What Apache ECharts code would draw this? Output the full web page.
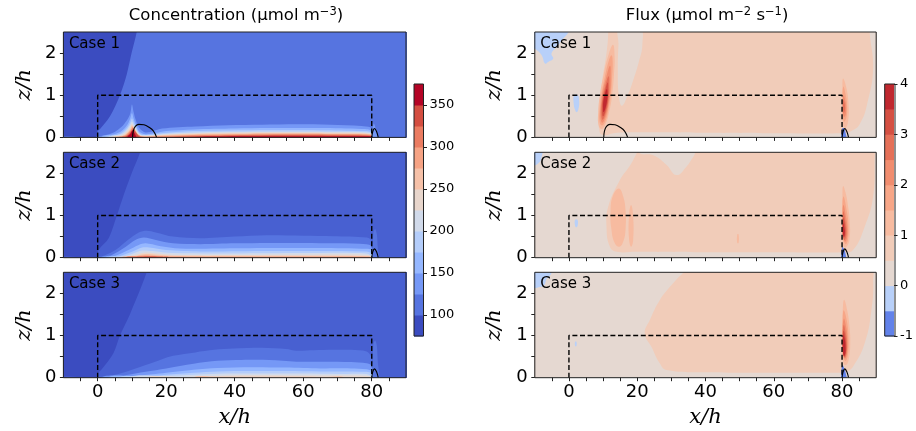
<!DOCTYPE html>
<html><head><meta charset="utf-8">
<script src="https://cdn.jsdelivr.net/npm/echarts@6/dist/echarts.min.js"></script>
<style>html,body{margin:0;padding:0;background:#fff}#c{width:916px;height:431px}</style>
</head><body><div id="c"></div>
<script>
// ---------------- DATA ----------------
const xTickLabels = [0, 20, 40, 60, 80];
const xTickMarks = [-5,0,5,10,15,20,25,30,35,40,45,50,55,60,65,70,75,80,85];
const zTickLabels = [0, 1, 2];
const zTickMarks = [0, 0.5, 1, 1.5, 2];
const concBounds = [75,100,125,150,175,200,225,250,275,300,325,350,375];
const concCbarLabels = [100,150,200,250,300,350];
const fluxBounds = [-1,-0.5,0,0.5,1,1.5,2,2.5,3,3.5,4];
const fluxCbarLabels = [-1,0,1,2,3,4];
const caseNames = ['Case 1','Case 2','Case 3'];
const canopyOutline = [[0,0],[0,1],[80,1],[80,0]];
const case1Arc = [[10.2,0],[10.4,0.15],[11,0.26],[12,0.31],[13.5,0.3],[15,0.24],[16.3,0.15],[17.2,0]];
const wallPeak = [[80,0],[80.3,0.14],[80.8,0.21],[81.4,0.14],[81.9,0]];

// concentration regions: [lower level, top boundary (ground attached)]
const conc1 = [
 [75, [[-11,2.7],[91,2.7]]],
 [100,[[-11,0],[-0.5,0],[0,0.15],[0.7,0.2],[3.6,0.5],[6.5,1],[8.5,1.5],[9.9,2],[11.4,2.5],[11.6,2.7],[91,2.7]]],
 [125,[[-0.5,0],[0,0.02],[2,0.05],[5,0.13],[7,0.25],[8.5,0.4],[9.5,0.56],[10,0.78],[10.5,0.6],[11,0.44],[12,0.24],[13.5,0.13],[15,0.12],[18.8,0.21],[28.5,0.26],[38,0.29],[48,0.3],[58,0.31],[68,0.3],[77,0.27],[79.6,0.24],[80.1,0.18],[80.6,0.33],[81.1,0.22],[81.6,0.05],[82,0]]],
 [150,[[1,0],[5,0.08],[7,0.15],[8.5,0.28],[9.5,0.45],[10,0.58],[10.5,0.45],[11.2,0.3],[12,0.15],[13.5,0.08],[16,0.09],[20,0.15],[28,0.19],[40,0.21],[50,0.22],[65,0.22],[77,0.2],[79.6,0.17],[80.1,0]]],
 [175,[[2,0],[5,0.04],[7,0.11],[8.5,0.22],[9.5,0.36],[10,0.45],[10.6,0.35],[11.3,0.22],[12.2,0.1],[13.5,0.06],[16,0.07],[20,0.11],[28,0.15],[45,0.17],[65,0.17],[77,0.15],[79.7,0.13],[80.1,0]]],
 [200,[[3,0],[7,0.08],[8.5,0.18],[9.5,0.3],[10,0.38],[10.6,0.3],[11.3,0.18],[12.3,0.07],[14,0.05],[17,0.06],[22,0.1],[30,0.125],[50,0.14],[70,0.135],[79.7,0.11],[80.1,0]]],
 [225,[[4,0],[7,0.05],[8.5,0.14],[9.5,0.25],[10,0.32],[10.6,0.25],[11.4,0.14],[12.5,0.05],[15,0.04],[20,0.07],[30,0.1],[50,0.12],[70,0.115],[79.7,0.09],[80.1,0]]],
 [250,[[5,0],[7.5,0.04],[8.8,0.12],[9.6,0.21],[10,0.28],[10.7,0.21],[11.5,0.1],[12.5,0.035],[16,0.035],[22,0.06],[32,0.085],[50,0.1],[70,0.095],[79.7,0.075],[80.1,0]]],
 [275,[[6,0],[8,0.05],[9,0.12],[9.8,0.2],[10.2,0.25],[10.8,0.18],[11.6,0.08],[13,0.02],[17,0.025],[24,0.05],[35,0.07],[50,0.085],[70,0.08],[79.7,0.065],[80.1,0]]],
 [300,[[7,0],[8.5,0.05],[9.3,0.12],[10,0.2],[10.4,0.22],[11,0.15],[11.8,0.06],[13,0.015],[18,0.015],[26,0.04],[40,0.055],[55,0.07],[70,0.065],[79.7,0.05],[80.1,0]]],
 [325,[[8,0],[9,0.06],[9.8,0.14],[10.4,0.2],[11.1,0.12],[12,0.03],[13,0],[20,0],[28,0.025],[40,0.04],[55,0.05],[70,0.045],[79.7,0.035],[80.1,0]]],
 [350,[[8.6,0],[9.5,0.08],[10.2,0.17],[10.8,0.1],[11.6,0],[22,0],[30,0.015],[45,0.025],[60,0.03],[75,0.025],[79.8,0.02],[80,0]]]
];
const conc2 = [
 [75, [[-11,2.7],[91,2.7]]],
 [87.5,[[-11,0],[-0.5,0],[0.3,0.19],[3.2,0.46],[5.6,1.0],[7.6,1.49],[9.9,2.0],[12.4,2.5],[12.6,2.7],[91,2.7]]],
 [100,[[-0.3,0],[2,0.05],[5.2,0.18],[9,0.43],[12,0.6],[14.3,0.64],[17,0.6],[22,0.5],[29.9,0.46],[40,0.5],[49.3,0.53],[60,0.52],[68.8,0.51],[78.5,0.48],[79.8,0.42],[80.2,0.2],[80.5,0.6],[81,0.68],[81.5,0.55],[81.8,0.2],[82.2,0]]],
 [125,[[1,0],[4,0.06],[8,0.25],[11,0.42],[13.5,0.48],[17,0.42],[22,0.34],[30,0.32],[40,0.34],[50,0.35],[60,0.35],[70,0.34],[78.5,0.32],[79.8,0.28],[80.1,0]]],
 [150,[[2,0],[5,0.04],[9,0.18],[12,0.3],[14,0.34],[18,0.28],[24,0.22],[35,0.22],[50,0.23],[65,0.23],[78.5,0.21],[79.9,0.18],[80.1,0]]],
 [175,[[3,0],[6,0.03],[10,0.14],[13,0.24],[15,0.24],[20,0.18],[30,0.15],[50,0.16],[78.5,0.15],[80,0.1],[80.1,0]]],
 [200,[[4,0],[7,0.02],[10,0.09],[13,0.17],[16,0.16],[22,0.11],[40,0.1],[60,0.11],[78.5,0.1],[80.1,0]]],
 [225,[[5,0],[8,0.02],[11,0.07],[13.5,0.12],[16,0.11],[22,0.07],[40,0.065],[60,0.07],[79,0.065],[80.1,0]]],
 [250,[[6,0],[9,0.02],[12,0.06],[14,0.085],[17,0.07],[24,0.045],[50,0.045],[79,0.04],[80,0]]],
 [275,[[7,0],[10,0.02],[13,0.05],[15,0.055],[19,0.04],[26,0.03],[50,0.03],[79,0.025],[80,0]]],
 [300,[[8,0],[12,0.03],[15,0.04],[19,0.025],[26,0.015],[60,0.015],[79,0.012],[80,0]]],
 [325,[[11,0],[13,0.025],[16,0.03],[19,0.02],[21,0]]]
];
const conc3 = [
 [75, [[-11,2.7],[91,2.7]]],
 [87.5,[[-11,0],[-0.5,0],[0,0.1],[1.2,0.2],[4.6,0.58],[6.5,1.0],[9.4,1.5],[14.3,2.5],[14.5,2.7],[91,2.7]]],
 [100,[[-0.3,0],[3,0.03],[9,0.16],[14,0.3],[18.8,0.44],[22,0.52],[28.5,0.6],[34,0.66],[39.6,0.69],[48,0.71],[55,0.68],[58,0.64],[63,0.65],[68.8,0.66],[74,0.66],[78.5,0.62],[79.8,0.5],[80.2,0.3],[80.5,0.8],[81,0.88],[81.5,0.75],[81.8,0.35],[82.3,0]]],
 [125,[[1,0],[8,0.06],[14,0.14],[20,0.22],[28,0.33],[35,0.4],[42,0.42],[50,0.42],[58,0.38],[66,0.38],[74,0.37],[78.5,0.34],[79.9,0.28],[80.1,0]]],
 [150,[[3,0],[10,0.04],[16,0.08],[20,0.12],[28,0.19],[35,0.23],[45,0.25],[55,0.24],[65,0.22],[74,0.22],[78.5,0.2],[80,0.15],[80.1,0]]],
 [175,[[6,0],[14,0.03],[20,0.07],[28,0.12],[35,0.15],[45,0.16],[55,0.16],[65,0.15],[78.5,0.14],[80,0.1],[80.1,0]]],
 [200,[[9,0],[20,0.04],[28,0.07],[35,0.095],[45,0.1],[60,0.1],[70,0.09],[78.5,0.085],[80.05,0]]],
 [225,[[14,0],[25,0.015],[32,0.04],[40,0.055],[55,0.055],[70,0.05],[78.5,0.045],[80,0]]],
 [250,[[28,0],[35,0.02],[45,0.025],[58,0.022],[66,0.015],[72,0]]]
];

// flux regions: [lower level, closed outline]
const flux1 = [
 [0,   [[-11,-0.5],[91,-0.5],[91,2.7],[-11,2.7]]],
 [-0.5,[[-10.5,2.6],[-0.2,2.6],[-0.2,2.49],[-2.1,2.31],[-3.1,2.19],[-5.1,1.99],[-4.6,1.87],[-6.1,1.79],[-7.0,1.75],[-8.0,1.95],[-9.95,2.1],[-10.5,2.1]]],
 [-0.5,[[1.5,1.0],[2.6,1.0],[3.0,0.85],[2.8,0.68],[2.3,0.6],[1.8,0.65],[1.4,0.8]]],
 [0.5, [[11.3,2.6],[88.3,2.6],[88.1,2.48],[89.1,1.66],[87.6,0.88],[85.2,0.32],[82.2,0.13],[80.5,0.1],[60,0.1],[40,0.11],[20,0.12],[13,0.1],[10.5,0.05],[9,0.12],[8.9,0.64],[9.6,1.27],[11.1,2.06],[11.5,2.48]]],
 [0,   [[14.8,2.6],[20.8,2.6],[21.5,2.2],[20.5,1.8],[19,1.4],[17.2,1.0],[15.5,0.75],[14.6,1.0],[14.3,1.6],[14.5,2.2]]],
 [1.0, [[9.49,0.2],[10.66,0.3],[11.77,0.6],[12.65,1.0],[13.2,1.5],[13.38,1.9],[12.89,2.2],[11.38,1.9],[10.2,1.5],[9.05,1.0],[8.57,0.6],[8.66,0.3]]],
 [1.5, [[9.63,0.28],[10.73,0.4],[11.64,0.7],[12.25,1.0],[12.63,1.4],[12.81,1.8],[12.47,1.95],[11.61,1.8],[10.43,1.4],[9.45,1.0],[9.04,0.7],[8.93,0.4]]],
 [2.0, [[9.75,0.35],[10.8,0.5],[11.61,0.8],[12.12,1.1],[12.23,1.4],[12.04,1.7],[10.83,1.4],[9.92,1.1],[9.41,0.8],[9.2,0.5]]],
 [2.5, [[9.86,0.42],[10.87,0.6],[11.58,0.9],[11.79,1.2],[11.62,1.45],[10.59,1.2],[9.78,0.9],[9.47,0.6]]],
 [3.0, [[10.0,0.5],[10.94,0.7],[11.47,0.95],[11.51,1.15],[11.36,1.3],[10.71,1.15],[10.07,0.95],[9.74,0.7]]],
 [3.5, [[10.17,0.6],[10.88,0.75],[11.27,0.95],[11.29,1.05],[11.11,1.15],[10.59,1.05],[10.27,0.95],[9.98,0.75]]],
 [1.0, [[80.3,1.4],[81.2,1.2],[81.9,0.8],[81.8,0.4],[81.0,0.22],[80.3,0.3],[80.1,0.8],[80.1,1.2]]],
 [1.5, [[80.35,1.2],[81.2,0.95],[81.5,0.7],[81.2,0.45],[80.5,0.38],[80.2,0.7]]],
 [2.0, [[80.4,1.0],[81.0,0.85],[81.2,0.68],[80.9,0.5],[80.4,0.5],[80.2,0.75]]],
 [2.5, [[80.4,0.9],[80.8,0.78],[80.85,0.65],[80.5,0.58],[80.25,0.72]]],
 [-1.0,[[80.0,-0.1],[80.0,0.2],[80.5,0.22],[81.0,0.12],[81.3,-0.1]]]
];
const flux2 = [
 [0,   [[-11,-0.5],[91,-0.5],[91,2.7],[-11,2.7]]],
 [-0.5,[[-10.5,2.6],[-7.8,2.6],[-8.0,2.4],[-8.8,2.25],[-10.5,2.2]]],
 [-0.5,[[1.8,0.9],[2.5,0.9],[2.6,0.78],[2.2,0.72],[1.8,0.76]]],
 [0.5, [[20.8,2.6],[20.8,2.47],[24.7,2.43],[28.6,2.2],[31.5,1.96],[34.4,2.16],[36.4,2.39],[38.3,2.6],[89.8,2.6],[89.6,2.47],[89.1,1.45],[86.6,0.73],[83.2,0.18],[80.3,0.13],[60,0.13],[40,0.13],[20,0.14],[14,0.14],[12,0.26],[11,0.73],[11.5,1.21],[14.9,1.84],[18,2.2]]],
 [1.0, [[14.6,1.64],[15.9,1.45],[16.6,1.1],[16.6,0.7],[16.0,0.4],[14.8,0.26],[13.4,0.35],[12.4,0.7],[12.2,1.1],[12.8,1.45]]],
 [1.0, [[18.2,1.25],[18.8,1.0],[18.8,0.4],[18.2,0.26],[17.6,0.45],[17.6,1.0]]],
 [1.0, [[49.3,0.55],[49.7,0.55],[49.7,0.35],[49.3,0.35]]],
 [1.0, [[80.3,1.7],[81.0,1.55],[81.8,1.2],[82.3,0.8],[82.2,0.45],[81.5,0.28],[80.6,0.25],[80.1,0.5],[80.0,1.0],[80.1,1.4]]],
 [1.5, [[80.4,1.45],[81.4,1.1],[81.9,0.75],[81.7,0.42],[81.0,0.32],[80.2,0.5],[80.1,1.0]]],
 [2.0, [[80.4,1.25],[81.2,0.95],[81.6,0.7],[81.4,0.45],[80.8,0.38],[80.2,0.55],[80.15,0.95]]],
 [2.5, [[80.4,1.1],[81.0,0.85],[81.3,0.65],[81.1,0.48],[80.6,0.42],[80.2,0.6],[80.2,0.9]]],
 [3.0, [[80.4,0.95],[80.9,0.75],[81.0,0.6],[80.8,0.5],[80.4,0.48],[80.2,0.65]]],
 [3.5, [[80.35,0.82],[80.7,0.68],[80.8,0.58],[80.5,0.5],[80.25,0.6]]],
 [-1.0,[[80.0,-0.1],[80.0,0.25],[80.5,0.22],[81.0,0.1],[81.2,-0.1]]]
];
const flux3 = [
 [0,   [[-11,-0.5],[91,-0.5],[91,2.7],[-11,2.7]]],
 [-0.5,[[-10.5,2.6],[-5.1,2.6],[-5.3,2.45],[-6.5,2.35],[-7.2,2.2],[-8.5,2.15],[-10.5,2.15]]],
 [-0.5,[[1.8,0.85],[2.2,0.85],[2.2,0.75],[1.8,0.75]]],
 [0.5, [[35.4,2.6],[88.3,2.6],[89.1,2.31],[88.6,1.6],[86.6,0.81],[83.2,0.26],[81.3,0.14],[80,0.12],[60,0.12],[40,0.13],[28.6,0.18],[26.6,0.34],[24.2,0.73],[22.2,1.05],[23.7,1.37],[26.6,1.84],[30.5,2.24],[33,2.45]]],
 [1.0, [[80.6,1.85],[81.5,1.6],[82.2,1.2],[82.4,0.8],[82.0,0.45],[81.2,0.3],[80.4,0.35],[80.1,0.8],[80.1,1.3],[80.2,1.6]]],
 [1.5, [[80.5,1.6],[81.4,1.35],[81.9,0.95],[81.8,0.6],[81.1,0.4],[80.3,0.5],[80.1,1.0],[80.2,1.4]]],
 [2.0, [[80.5,1.4],[81.2,1.2],[81.6,0.9],[81.5,0.6],[80.9,0.45],[80.3,0.55],[80.15,1.0]]],
 [2.5, [[80.5,1.25],[81.1,1.05],[81.4,0.85],[81.3,0.6],[80.8,0.48],[80.3,0.6],[80.2,1.0]]],
 [3.0, [[80.45,1.12],[81.0,0.95],[81.2,0.78],[81.1,0.58],[80.6,0.5],[80.25,0.65],[80.2,0.95]]],
 [3.5, [[80.4,1.02],[80.85,0.88],[81.0,0.72],[80.9,0.56],[80.5,0.52],[80.25,0.7]]],
 [-1.0,[[80.0,-0.1],[80.0,0.3],[80.5,0.25],[81.1,0.1],[81.4,-0.1]]]
];

// ---------------- STYLE ----------------
const CW = [[59,76,192],[68,90,204],[77,104,215],[87,117,225],[98,130,234],[108,142,241],[119,154,247],[130,165,251],[141,176,254],[152,185,255],[163,194,255],[174,201,253],[184,208,249],[194,213,244],[204,217,238],[213,219,230],[221,221,221],[229,216,209],[236,211,197],[241,204,185],[245,196,173],[247,187,160],[247,177,148],[247,166,135],[244,154,123],[241,141,111],[236,127,99],[229,112,88],[222,96,77],[213,80,66],[203,62,56],[192,40,47],[180,4,38]];
function cw(t){t=Math.max(0,Math.min(1,t));const f=t*32,i=Math.min(31,Math.floor(f)),r=f-i,a=CW[i],b=CW[i+1];
 return 'rgb('+[0,1,2].map(k=>Math.round(a[k]+(b[k]-a[k])*r)).join(',')+')';}
const concColor = L => cw((L-75)/275);
const fluxColor = L => {const m=L+0.25; return cw(m<0 ? 0.5*(m+1) : 0.5+m/8);};
const FONT = '"DejaVu Sans", sans-serif';
const tops = [32, 152.3, 272.3], H = 105.4;
const cols = [{left:63.4,width:342.6},{left:534.8,width:341.4}];

const grids=[], xAxes=[], yAxes=[], series=[];
const concSets=[conc1,conc2,conc3], fluxSets=[flux1,flux2,flux3];
for (let c=0;c<2;c++) for (let r=0;r<3;r++){
  const gi = grids.length;
  grids.push({left:cols[c].left, top:tops[r], width:cols[c].width, height:H});
  xAxes.push({gridIndex:gi,type:'value',min:-10,max:90,z:10,position:'bottom',
    axisLine:{show:false,onZero:false},splitLine:{show:false},
    axisTick:{show:true,length:3.5,customValues:xTickMarks,lineStyle:{color:'#222',width:1}},
    axisLabel:{show:r===2,customValues:xTickLabels,fontSize:18,fontFamily:FONT,color:'#000',margin:6}});
  yAxes.push({gridIndex:gi,type:'value',min:0,max:2.5,z:10,position:'left',
    axisLine:{show:false,onZero:false},splitLine:{show:false},
    axisTick:{show:true,length:3.5,customValues:zTickMarks,lineStyle:{color:'#222',width:1}},
    axisLabel:{customValues:zTickLabels,fontSize:18,fontFamily:FONT,color:'#000',margin:7}});
  const regions = c===0 ? concSets[r] : fluxSets[r];
  const grounded = c===0;
  const colorFn = c===0 ? concColor : fluxColor;
  const sm = c===0 ? 0.3 : 0.45;
  series.push({type:'custom',xAxisIndex:gi,yAxisIndex:gi,clip:true,silent:true,z:2,
    data:regions.map((_,i)=>i),
    renderItem:(params,api)=>{
      const reg=regions[params.dataIndex]; let pts=reg[1];
      if(grounded) pts=[[pts[0][0],-0.4]].concat(pts,[[pts[pts.length-1][0],-0.4]]);
      return {type:'polygon',shape:{points:pts.map(p=>api.coord(p)),smooth:sm},style:{fill:colorFn(reg[0]),stroke:null}};
    }});
  series.push({type:'line',xAxisIndex:gi,yAxisIndex:gi,data:canopyOutline,symbol:'none',silent:true,z:5,
    lineStyle:{color:'#000',width:1.4,type:[5,2.6]}});
  series.push({type:'line',xAxisIndex:gi,yAxisIndex:gi,data:wallPeak,symbol:'none',silent:true,z:5,smooth:0.4,
    lineStyle:{color:'#000',width:1.1}});
  if(r===0) series.push({type:'line',xAxisIndex:gi,yAxisIndex:gi,data:case1Arc,symbol:'none',silent:true,z:5,smooth:0.4,
    lineStyle:{color:'#000',width:1.1}});
}
// colorbars
const cbars=[{left:414,width:9.5,bounds:concBounds,labels:concCbarLabels,color:concColor},
             {left:884.7,width:10.3,bounds:fluxBounds,labels:fluxCbarLabels,color:fluxColor}];
cbars.forEach(cb=>{
  const gi=grids.length;
  grids.push({left:cb.left,top:84,width:cb.width,height:252});
  xAxes.push({gridIndex:gi,type:'value',min:0,max:1,show:false});
  yAxes.push({gridIndex:gi,type:'value',position:'right',min:cb.bounds[0],max:cb.bounds[cb.bounds.length-1],z:10,
    axisLine:{show:false,onZero:false},splitLine:{show:false},
    axisTick:{show:true,length:3.5,customValues:cb.labels,lineStyle:{color:'#222'}},
    axisLabel:{customValues:cb.labels,fontSize:13,fontFamily:FONT,color:'#000',margin:6}});
  series.push({type:'custom',xAxisIndex:gi,yAxisIndex:gi,silent:true,
    data:cb.bounds.slice(0,-1).map((_,i)=>i),
    renderItem:(params,api)=>{
      const i=params.dataIndex, p0=api.coord([0,cb.bounds[i]]), p1=api.coord([1,cb.bounds[i+1]]);
      return {type:'rect',shape:{x:p0[0],y:p1[1],width:p1[0]-p0[0],height:p0[1]-p1[1]+0.5},style:{fill:cb.color(cb.bounds[i])}};
    }});
});

// graphics: frames & texts
const graphic=[];
grids.forEach(g=>graphic.push({type:'rect',z:100,silent:true,shape:{x:g.left,y:g.top,width:g.width,height:g.height},
  style:{fill:null,stroke:'#222',lineWidth:1}}));
const txt=(x,y,text,font,rot)=>({type:'text',x,y,z:100,silent:true,rotation:rot||0,
  style:{text,fill:'#000',font,textAlign:'center',textVerticalAlign:'middle'}});
const supRich={sup:{fontSize:11.5,fontFamily:FONT,verticalAlign:'top',lineHeight:20}};
const title=(x,text)=>({type:'text',x,y:16,z:100,silent:true,
  style:{text,fill:'#000',fontSize:16.5,fontFamily:FONT,lineHeight:20,textAlign:'center',textVerticalAlign:'middle',rich:supRich}});
graphic.push(title(236,'Concentration (μmol m{sup|−3})'));
graphic.push(title(707,'Flux (μmol m{sup|−2} s{sup|−1})'));
for(let r=0;r<3;r++){
  ['left','right'].forEach((s,c)=>{
    graphic.push({type:'text',x:cols[c].left+5.5,y:tops[r]+12,z:100,silent:true,
      style:{text:caseNames[r],fill:'#000',font:'15px '+FONT,textAlign:'left',textVerticalAlign:'middle'}});
    graphic.push(txt(c===0?25:495,tops[r]+H/2,'z/h','italic 21px "DejaVu Serif", serif',Math.PI/2));
  });
}
graphic.push(txt(234.7,418,'x/h','italic 21px "DejaVu Serif", serif'));
graphic.push(txt(705.5,418,'x/h','italic 21px "DejaVu Serif", serif'));

const chart=echarts.init(document.getElementById('c'),null,{renderer:'canvas'});
chart.setOption({animation:false,backgroundColor:'#fff',grid:grids,xAxis:xAxes,yAxis:yAxes,series,graphic});
</script></body></html>
